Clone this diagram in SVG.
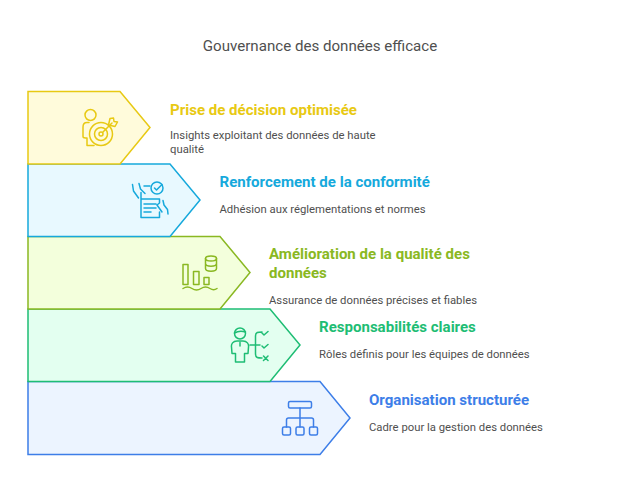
<svg xmlns="http://www.w3.org/2000/svg" width="640" height="500" viewBox="0 0 640 500">
<style>
text{font-family:"Roboto","Liberation Sans",sans-serif}
.t{font-size:15.1px;fill:#4f4f4f}
.h{font-size:15.05px;font-weight:700}
.d{font-size:11.3px;fill:#4f4f4f}
.s{stroke-width:1.5}
.i{fill:none;stroke-width:1.5;stroke-linecap:round;stroke-linejoin:round}
</style>
<rect width="640" height="500" fill="#fff"/>
<text class="t" x="320" y="51" text-anchor="middle">Gouvernance des données efficace</text>
<g id="node-5">
<path class="s" d="M28 381.500H320L350 418L320 454.500H28Z" fill="#ecf4ff" stroke="#3d7ee8"/>
<g class="i" stroke="#3d7ee8"><rect x="288.500" y="401.500" width="23" height="6.500" rx="1.500"/><path d="M300 408V427M286.500 427V420a2 2 0 0 1 2-2H311.500a2 2 0 0 1 2 2V427"/><rect x="282.500" y="427" width="8" height="8" rx="1.500"/><rect x="296" y="427" width="8" height="8" rx="1.500"/><rect x="309.500" y="427" width="8" height="8" rx="1.500"/></g>
<text class="h" x="369" y="405" fill="#3d7ee8">Organisation structurée</text>
<text class="d" x="369" y="431">Cadre pour la gestion des données</text>
</g>
<g id="node-4">
<path class="s" d="M28 309H270L300 345L270 381.500H28Z" fill="#e3fff0" stroke="#1ebd74"/>
<g class="i" stroke="#1ebd74"><circle cx="240" cy="333.500" r="5.500"/><path d="M234.500 333C238 331 242 331 245.500 332M240 342.500V346M237 341H243C247 341 249 344 248.500 347L248 353.500H244.500V362H235.500V353.500H232L231.500 347C231 344 233 341 237 341ZM250 345H260M262 332C258 332 255.500 332 255.500 336V354C255.500 358 258 358 262 358M262 333L264 335L268 331.500M262 346L264 348L268 344.500M263.500 356L268 360.500M268 356L263.500 360.500"/></g>
<text class="h" x="319" y="332" fill="#1ebd74">Responsabilités claires</text>
<text class="d" x="319" y="358">Rôles définis pour les équipes de données</text>
</g>
<g id="node-3">
<path class="s" d="M28 236.500H220L250 272.500L220 309H28Z" fill="#f3ffdc" stroke="#8ab822"/>
<g class="i" stroke="#8ab822"><rect x="183" y="264.500" width="5" height="20"/><rect x="193.500" y="271.500" width="5.500" height="13"/><rect x="204" y="277.500" width="5" height="7"/><ellipse cx="211" cy="258.500" rx="5.500" ry="2.500"/><path d="M205.500 258.500V268.500C205.500 272 216.500 272 216.500 268.500V258.500M205.500 263.500C205.500 267 216.500 267 216.500 263.500M183 288.500C186 286.500 189 286.500 192 288.500S198 290.500 201 288.500S207 286.500 210 288.500S215 290 217 288.500"/></g>
<text class="h" x="269" y="259" fill="#8ab822">Amélioration de la qualité des</text>
<text class="h" x="269" y="278" fill="#8ab822">données</text>
<text class="d" x="269" y="304">Assurance de données précises et fiables</text>
</g>
<g id="node-2">
<path class="s" d="M28 164H170L200 200L170 236.500H28Z" fill="#e8f9ff" stroke="#16a9dc"/>
<g class="i" stroke="#16a9dc"><circle cx="157" cy="188" r="6"/><path d="M154.500 188L156.500 190L162 184.500M132.500 184.500L133.500 191L138.500 198M139 183.500L140.500 189L145 193.500M144 186H150M141 192.500V217.500H159.500V212M141 199H159M144 204H156M144 208H156M144 212H151M159.500 199V203L157 205L162 212M163 200.500L164 205L167.500 209.500L168 214"/></g>
<text class="h" x="219.500" y="187" fill="#16a9dc">Renforcement de la conformité</text>
<text class="d" x="219.500" y="213">Adhésion aux réglementations et normes</text>
</g>
<g id="node-1">
<path class="s" d="M28 91.500H120L150 127.500L120 164H28Z" fill="#fffbdb" stroke="#e8c913"/>
<g class="i" stroke="#e8c913"><circle cx="90.500" cy="115" r="5.500"/><path d="M89 122.500H87C84.500 122.500 83 124.500 83 127V136.500C83 138 84 138 85.500 138H87V145.500H94"/><circle cx="101" cy="134" r="11.500"/><circle cx="101" cy="134" r="6.500"/><circle cx="101" cy="134" r="2"/><path d="M103 132L112 123M110 118.500L108.500 125L115 126.500L117.500 122L114 121.500L113.500 118Z"/></g>
<text class="h" x="170" y="114.500" fill="#e8c913">Prise de décision optimisée</text>
<text class="d" x="170" y="139">Insights exploitant des données de haute</text>
<text class="d" x="170" y="153">qualité</text>
</g>
</svg>
